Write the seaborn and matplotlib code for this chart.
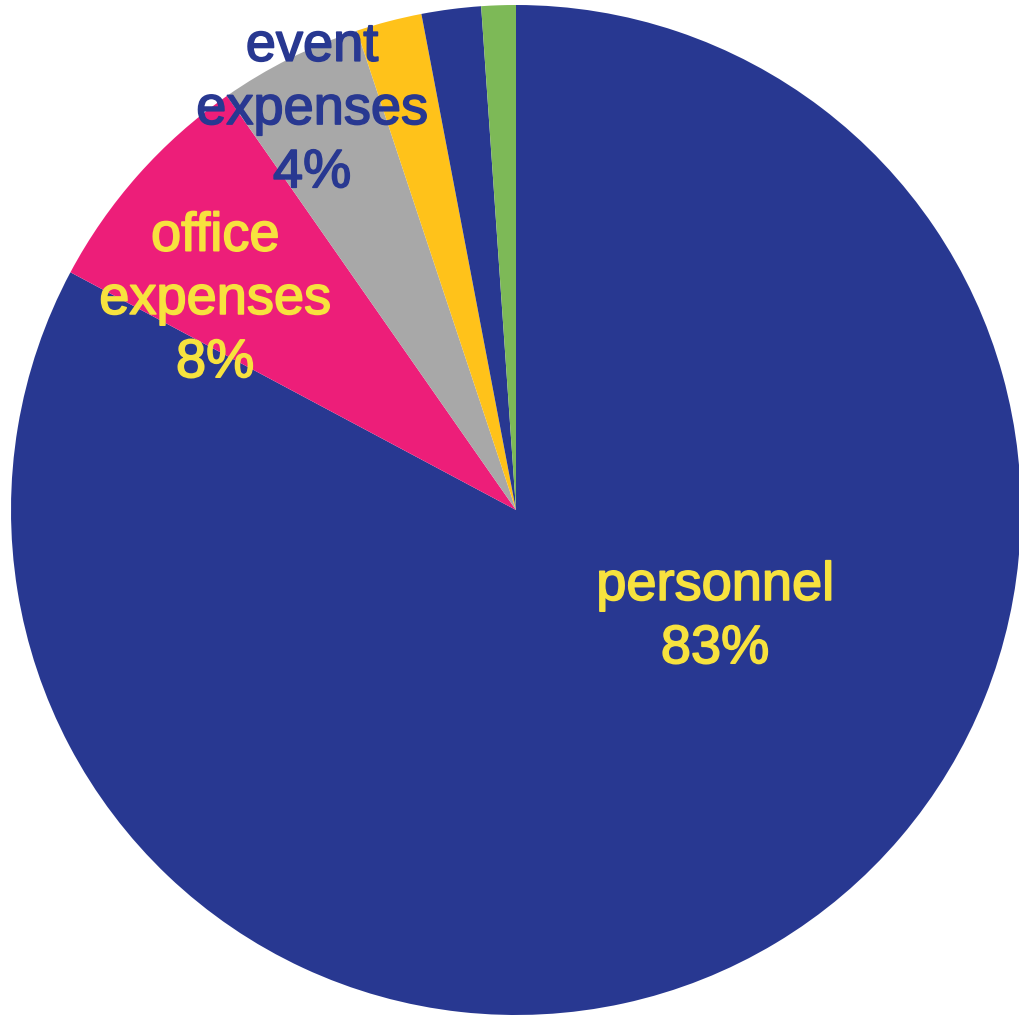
import matplotlib
matplotlib.use("Agg")
import matplotlib.pyplot as plt
import matplotlib.patheffects as pe
import seaborn as sns

# budget shares (percent), clockwise from 12 o'clock
kategoriler = ["personnel", "office expenses", "event expenses", "other 1", "other 2", "other 3"]
paylar = [82.8, 7.5, 4.6, 2.1, 1.9, 1.1]
etiketler = ["personnel\n83%", "office\nexpenses\n8%", "event\nexpenses\n4%", "", "", ""]

renkler = ["#283891", "#ED1E79", "#A8A8A8", "#FFC21A", "#283891", "#7DB957"]
yazi_renkleri = ["#F7E23E", "#F7E23E", "#283891", None, None, None]
# label anchor points (data coords, pie radius = 1)
etiket_yerleri = [(0.394, -0.213), (-0.596, 0.416), (-0.404, 0.792), None, None, None]

sns.set_theme(style="white")
plt.rcParams["font.family"] = ["Liberation Sans", "DejaVu Sans"]

fig = plt.figure(figsize=(10.2, 10.18), dpi=100)
ax = fig.add_axes([0, 0, 1, 1])
ax.pie(paylar, colors=renkler, startangle=90, counterclock=False,
       radius=1.0, wedgeprops=dict(linewidth=0))

for etiket, yer, renk in zip(etiketler, etiket_yerleri, yazi_renkleri):
    if yer is None:
        continue
    ax.text(yer[0], yer[1], etiket, ha="center", va="center", color=renk,
            fontsize=39, linespacing=1.34,
            path_effects=[pe.withStroke(linewidth=1.2, foreground=renk)])

ax.set_xlim(-516 / 505, (1020 - 516) / 505)
ax.set_ylim(-(1018 - 510) / 505, 510 / 505)
ax.set_aspect("auto")
ax.axis("off")

plt.savefig("out.png", dpi=100, facecolor="white")
